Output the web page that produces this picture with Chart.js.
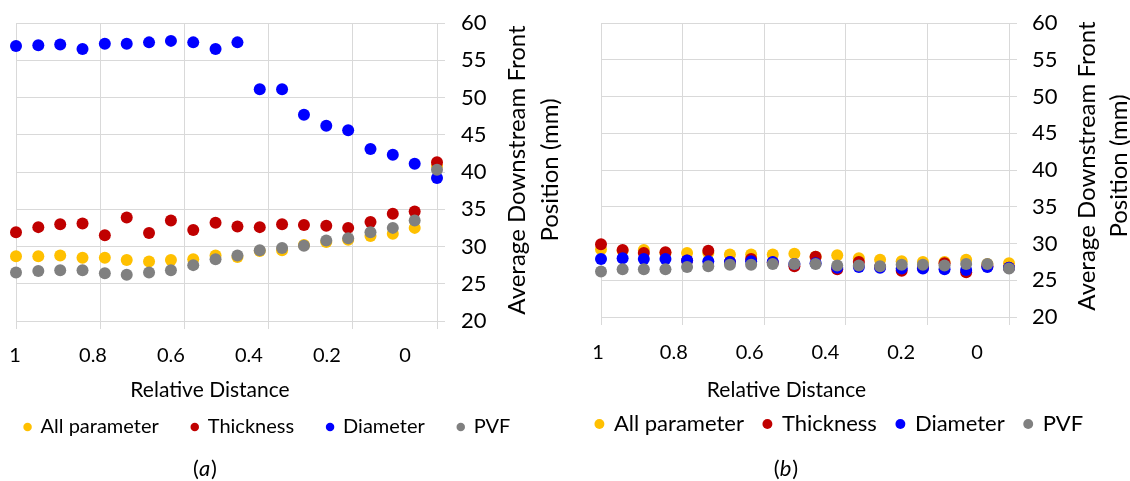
<!DOCTYPE html>
<html>
<head>
<meta charset="utf-8">
<script src="https://cdn.jsdelivr.net/npm/chart.js@4.4.1/dist/chart.umd.min.js"></script>
<style>
  html, body { margin: 0; padding: 0; background: #fff; }
  #wrap { position: relative; width: 1130px; height: 481px; overflow: hidden; }
  .panel { position: absolute; top: 0; height: 481px; }
  canvas { display: block; }
</style>
</head>
<body>
<div id="wrap">
  <div class="panel" style="left:-32px;width:599px"><canvas id="chartA" width="599" height="481"></canvas></div>
  <div class="panel" style="left:530px;width:619px"><canvas id="chartB" width="619" height="481"></canvas></div>
</div>
<script>
// Sampling positions along the specimen (relative distance, 1 -> 0)
const relativeDistance = [1, 0.947, 0.895, 0.842, 0.789, 0.737, 0.684, 0.632, 0.579, 0.526,
                          0.474, 0.421, 0.368, 0.316, 0.263, 0.211, 0.158, 0.105, 0.053, 0];
const seriesNames  = ['All parameter', 'Thickness', 'Diameter', 'PVF'];
const seriesColors = ['#FFC000', '#C00000', '#0000FF', '#808080'];
const distanceTicks = [1, 0.8, 0.6, 0.4, 0.2, 0];
const xTitle = 'Relative Distance';
const yTitleLines = ['Average Downstream Front', 'Position (mm)'];
const panelLetters = ['a', 'b'];

// Panel (a): average downstream front position (mm)
const allParamA  = [28.7, 28.7, 28.8, 28.5, 28.5, 28.2, 28.0, 28.2, 28.3, 28.8,
                    28.6, 29.4, 29.5, 30.2, 30.6, 30.9, 31.4, 31.7, 32.5, 40.8];
const thicknessA = [31.9, 32.6, 33.0, 33.1, 31.5, 33.9, 31.8, 33.5, 32.2, 33.2,
                    32.7, 32.6, 33.0, 32.9, 32.8, 32.5, 33.3, 34.4, 34.7, 41.3];
const diameterA  = [56.9, 57.0, 57.1, 56.5, 57.2, 57.2, 57.4, 57.6, 57.4, 56.5,
                    57.4, 51.1, 51.1, 47.7, 46.2, 45.6, 43.1, 42.3, 41.1, 39.2];
const pvfA       = [26.5, 26.7, 26.8, 26.8, 26.4, 26.2, 26.5, 26.8, 27.5, 28.3,
                    28.8, 29.5, 29.8, 30.1, 30.8, 31.1, 31.9, 32.5, 33.5, 40.3];

// Panel (b)
const allParamB  = [29.2, 29.0, 29.1, 28.7, 28.7, 28.7, 28.5, 28.5, 28.5, 28.6,
                    28.2, 28.4, 28.0, 27.8, 27.6, 27.5, 27.5, 27.8, 27.2, 27.3];
const thicknessB = [29.9, 29.1, 28.7, 28.8, 27.7, 29.0, 27.5, 27.9, 27.4, 26.9,
                    28.2, 26.5, 27.5, 26.8, 26.3, 26.7, 27.3, 26.1, 26.9, 26.7];
const diameterB  = [27.9, 28.0, 27.9, 27.9, 27.7, 27.6, 27.5, 27.6, 27.5, 27.2,
                    27.3, 26.7, 26.8, 26.7, 26.6, 26.6, 26.5, 26.4, 26.8, 26.7];
const pvfB       = [26.2, 26.5, 26.5, 26.5, 26.8, 26.9, 27.1, 27.1, 27.2, 27.2,
                    27.2, 27.0, 27.0, 26.9, 27.1, 27.1, 27.0, 27.2, 27.2, 26.6];

const gridColor = '#d9d9d9';
const textColor = '#000';
Chart.defaults.font.family = 'Lato';
Chart.defaults.color = textColor;

// Axis titles and the panel caption, drawn after the chart itself.
// Positions are given in page coordinates and shifted by the canvas offset.
const panelText = {
  id: 'panelText',
  afterDraw(chart, args, o) {
    const ctx = chart.ctx;
    ctx.save();
    ctx.translate(-o.offset, 0);
    ctx.fillStyle = textColor;
    ctx.textBaseline = 'alphabetic';

    ctx.font = `${o.xTitleSize}px Lato`;
    ctx.textAlign = 'center';
    ctx.fillText(xTitle, o.xTitleX, o.xTitleY);

    // right-hand value axis title, reading bottom-to-top
    ctx.font = `${o.yTitleSize}px Lato`;
    yTitleLines.forEach((line, k) => {
      ctx.save();
      ctx.translate(o.yTitleX[k], o.yTitleY);
      ctx.rotate(-Math.PI / 2);
      ctx.textAlign = 'center';
      ctx.fillText(line, 0, 0);
      ctx.restore();
    });

    // caption: upright parentheses around an italic letter
    const upright = `${o.captionSize}px Lato`;
    const italic = `italic ${o.captionSize}px Lato`;
    ctx.textAlign = 'left';
    ctx.font = upright;
    const wOpen = ctx.measureText('(').width;
    const wClose = ctx.measureText(')').width;
    ctx.font = italic;
    const wLetter = ctx.measureText(o.letter).width;
    let cx = o.captionX - (wOpen + wLetter + wClose + 1) / 2;
    ctx.font = upright;
    ctx.fillText('(', cx, o.captionY);
    cx += wOpen;
    ctx.font = italic;
    ctx.fillText(o.letter, cx, o.captionY);
    cx += wLetter + 1;
    ctx.font = upright;
    ctx.fillText(')', cx, o.captionY);
    ctx.restore();
  }
};

function buildChart(canvasId, values, spec) {
  const datasets = values.map((vals, i) => ({
    label: seriesNames[i],
    data: relativeDistance.map((d, k) => ({ x: d, y: vals[k] })),
    backgroundColor: seriesColors[i],
    borderColor: seriesColors[i],
    borderWidth: 0,
    pointRadius: 6,
    pointHoverRadius: 6,
    pointStyle: 'circle',
    order: values.length - 1 - i,   // later series drawn on top
    xAxisID: 'x',
    yAxisID: 'y',
    clip: false
  }));

  return new Chart(document.getElementById(canvasId), {
    type: 'scatter',
    data: { datasets },
    plugins: [panelText],
    options: {
      responsive: false,
      animation: false,
      devicePixelRatio: 1,
      events: [],
      layout: { padding: { left: 0, right: 0, top: 23, bottom: spec.padBottom } },
      scales: {
        // empty band that sets the left margin of the plot
        leftBand: {
          type: 'linear', position: 'left',
          grid: { display: false, drawTicks: false },
          border: { display: false },
          ticks: { display: false },
          afterFit: s => { s.width = spec.leftBand; }
        },
        x: {
          type: 'linear', position: 'bottom', reverse: true, min: 0, max: 1,
          ticks: { display: false, stepSize: 0.2 },
          grid: { color: gridColor, tickLength: 8, drawTicks: true },
          border: { color: gridColor },
          afterFit: s => { s.height = 8; s.paddingLeft = 0; s.paddingRight = 0; }
        },
        xLabels: {
          type: 'linear', position: 'bottom', reverse: true,
          min: spec.labelMin, max: spec.labelMax,
          afterBuildTicks: s => { s.ticks = distanceTicks.map(v => ({ value: v })); },
          afterFit: s => { s.height = spec.labelBand; s.paddingLeft = 0; s.paddingRight = 0; },
          grid: { display: false, drawTicks: false },
          border: { display: false },
          ticks: {
            autoSkip: false, maxRotation: 0, minRotation: 0,
            padding: spec.labelPad, font: { size: 20 }, color: textColor,
            callback: v => String(v)
          }
        },
        y: {
          type: 'linear', position: 'right', min: 20, max: 60,
          ticks: { stepSize: 5, padding: spec.yTickPad, font: { size: 22 }, color: textColor },
          grid: { color: gridColor, tickLength: 8 },
          border: { color: gridColor },
          afterFit: s => { s.width = spec.yBand; s.paddingTop = 0; s.paddingBottom = 0; }
        }
      },
      plugins: {
        tooltip: { enabled: false },
        legend: {
          position: 'bottom', align: 'center',
          labels: {
            usePointStyle: true, pointStyle: 'circle',
            boxWidth: spec.legendBox, boxHeight: spec.legendBox,
            padding: spec.legendPad,
            font: { size: spec.legendSize }, color: textColor,
            sort: (a, b) => a.datasetIndex - b.datasetIndex
          }
        },
        panelText: spec.text
      }
    }
  });
}

buildChart('chartA', [allParamA, thicknessA, diameterA, pvfA], {
  padBottom: 34, leftBand: 48, yBand: 130, yTickPad: 16,
  labelMin: -0.0821, labelMax: 0.9974, labelBand: 55, labelPad: 15,
  legendPad: 33, legendSize: 20, legendBox: 6,
  text: {
    offset: -32,
    xTitleSize: 21, xTitleX: 210, xTitleY: 397,
    yTitleSize: 24, yTitleX: [524.5, 557.5], yTitleY: 170,
    captionSize: 22, captionX: 205, captionY: 476, letter: panelLetters[0]
  }
});

buildChart('chartB', [allParamB, thicknessB, diameterB, pvfB], {
  padBottom: 36, leftBand: 71, yBand: 140, yTickPad: 15,
  labelMin: -0.0844, labelMax: 0.9921, labelBand: 68, labelPad: 16,
  legendPad: 20, legendSize: 22, legendBox: 7,
  text: {
    offset: 530,
    xTitleSize: 21, xTitleX: 786.5, xTitleY: 397,
    yTitleSize: 24, yTitleX: [1094.5, 1127], yTitleY: 166,
    captionSize: 22, captionX: 786, captionY: 476, letter: panelLetters[1]
  }
});
</script>
</body>
</html>
